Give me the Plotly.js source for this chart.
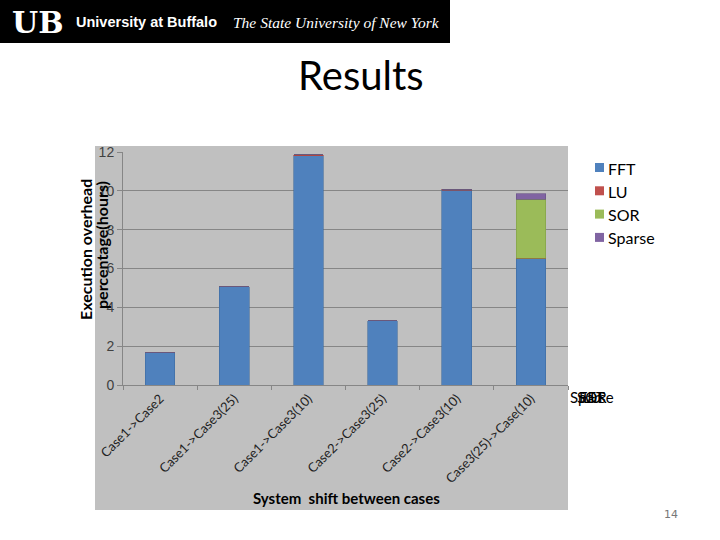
<!DOCTYPE html>
<html>
<head>
<meta charset="utf-8">
<script src="https://cdn.plot.ly/plotly-3.0.1.min.js"></script>
<style>
  html, body { margin: 0; padding: 0; background: #ffffff; }
  #chart { width: 720px; height: 540px; }
</style>
</head>
<body>
<div id="chart"></div>
<script>
// ---- data ----
const categories = ["Case1->Case2", "Case1->Case3(25)", "Case1->Case3(10)", "Case2->Case3(25)", "Case2->Case3(10)", "Case3(25)->Case(10)"];
const seriesNames = ["FFT", "LU", "SOR", "Sparse"];
const fftValues    = [1.65, 5.07, 11.80, 3.32, 10.02, 6.50];
const luValues     = [0.00, 0.00, 0.05, 0.00, 0.05, 0.04];
const sorValues    = [0.00, 0.00, 0.00, 0.00, 0.00, 3.03];
const sparseValues = [0.00, 0.00, 0.02, 0.00, 0.00, 0.28];
const yTicks = [0, 2, 4, 6, 8, 10, 12];

const colors = ["#4f81bd", "#c0504d", "#9bbb59", "#8064a2"];
const lineColors = ["#3d6a9e", "#a33f3c", "#7f9c47", "#654f85"];
const values = [fftValues, luValues, sorValues, sparseValues];

const traces = seriesNames.map((name, i) => ({
  type: "bar",
  name: name,
  x: categories,
  y: values[i],
  marker: { color: colors[i], line: { color: lineColors[i], width: 0.6 } },
  hoverinfo: "x+y+name"
}));

const gray = "#c0c0c0";
const gridColor = "#868686";

// pixel -> paper helpers (plot area: x 123..568, y 152..385)
const L = 123, W = 445, B = 385, H = 233;
const px = v => (v - L) / W;
const py = v => (B - v) / H;

// custom legend (right side, white area)
const legendShapes = seriesNames.map((n, i) => ({
  type: "rect", xref: "paper", yref: "paper",
  x0: px(595), x1: px(604), y0: py(172 + i * 23.3), y1: py(163 + i * 23.3),
  fillcolor: colors[i], line: { width: 0 }, layer: "above"
}));
const legendLabels = seriesNames.map((n, i) => ({
  xref: "paper", yref: "paper", x: px(606), y: py(168 + i * 23.3),
  text: n, showarrow: false, xanchor: "left", yanchor: "middle",
  font: { size: 16, family: "Lato, sans-serif", color: "#000" }
}));

const layout = {
  width: 720,
  height: 540,
  margin: { l: 123, r: 152, t: 152, b: 155 },
  paper_bgcolor: "#ffffff",
  plot_bgcolor: gray,
  barmode: "stack",
  bargap: 0.6,
  showlegend: false,
  font: { family: "Lato, 'DejaVu Sans', sans-serif", color: "#000" },
  xaxis: {
    type: "category",
    tickangle: -45,
    tickson: "boundaries",
    ticks: "outside",
    ticklen: 4,
    tickcolor: gridColor,
    showline: true,
    linecolor: gridColor,
    linewidth: 1,
    showgrid: false,
    tickfont: { size: 13, family: "Lato, sans-serif", color: "#222" },
    fixedrange: true
  },
  yaxis: {
    range: [0, 12],
    tickvals: yTicks,
    ticks: "outside",
    ticklen: 5,
    tickcolor: gridColor,
    showline: true,
    linecolor: gridColor,
    linewidth: 1,
    showgrid: true,
    gridcolor: gridColor,
    gridwidth: 1,
    zeroline: false,
    tickfont: { size: 14, family: "'Liberation Sans', Arial, sans-serif", color: "#404040" },
    fixedrange: true
  },
  shapes: [
    // gray chart area (extends beyond plot area)
    { type: "rect", xref: "paper", yref: "paper", x0: px(95), x1: px(568), y0: py(510), y1: py(146),
      fillcolor: gray, line: { width: 0 }, layer: "below" },
    // header black bar
    { type: "rect", xref: "paper", yref: "paper",
      x0: px(0), x1: px(450), y0: py(43), y1: py(0),
      fillcolor: "#000000", line: { width: 0 }, layer: "above" },
    ...legendShapes
  ],
  annotations: [
    // Title
    { xref: "paper", yref: "paper", x: px(361), y: py(75),
      text: "Results", showarrow: false, xanchor: "center", yanchor: "middle",
      font: { size: 40, family: "Lato, sans-serif", color: "#000" } },
    // Y-axis title, two lines
    { xref: "paper", yref: "paper", x: px(85), y: py(250),
      text: "<b>Execution overhead</b>", textangle: -90, showarrow: false,
      xanchor: "center", yanchor: "middle",
      font: { size: 16, family: "Lato, sans-serif", color: "#000" } },
    { xref: "paper", yref: "paper", x: px(101), y: py(245),
      text: "<b>percentage(hours)</b>", textangle: -90, showarrow: false,
      xanchor: "center", yanchor: "middle",
      font: { size: 16, family: "Lato, sans-serif", color: "#000" } },
    // X-axis title
    { xref: "paper", yref: "paper", x: px(346), y: py(498),
      text: "<b>System  shift between cases</b>", showarrow: false,
      xanchor: "center", yanchor: "middle",
      font: { size: 15, family: "Lato, sans-serif", color: "#000" } },
    // Overlapping leftover legend labels
    ...seriesNames.map(n => ({
      xref: "paper", yref: "paper", x: px(592), y: py(397),
      text: n, showarrow: false, xanchor: "center", yanchor: "middle",
      font: { size: 15, family: "Lato, sans-serif", color: "#000" }
    })),
    ...legendLabels,
    // Header: UB logo
    { xref: "paper", yref: "paper", x: px(38), y: py(22),
      text: "<b>UB</b>", showarrow: false, xanchor: "center", yanchor: "middle",
      font: { size: 30, family: "'DejaVu Serif', 'Liberation Serif', serif", color: "#ffffff" } },
    { xref: "paper", yref: "paper", x: px(74), y: py(22),
      text: "<b>University at Buffalo</b>", showarrow: false, xanchor: "left", yanchor: "middle",
      font: { size: 14.5, family: "'Liberation Sans', Arial, sans-serif", color: "#ffffff" } },
    { xref: "paper", yref: "paper", x: px(231), y: py(22),
      text: "<i>The State University of New York</i>", showarrow: false, xanchor: "left", yanchor: "middle",
      font: { size: 15.5, family: "'Liberation Serif', 'DejaVu Serif', serif", color: "#ffffff" } },
    // Page number
    { xref: "paper", yref: "paper", x: px(671), y: py(514),
      text: "14", showarrow: false, xanchor: "center", yanchor: "middle",
      font: { size: 11, family: "'DejaVu Sans', sans-serif", color: "#777" } }
  ]
};

Plotly.newPlot("chart", traces, layout, { staticPlot: true, displayModeBar: false });
</script>
</body>
</html>
